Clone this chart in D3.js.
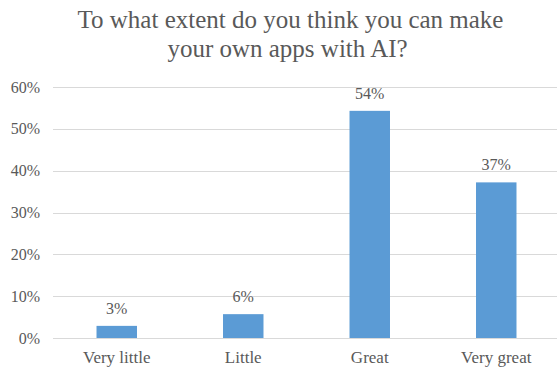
<!DOCTYPE html>
<html><head><meta charset="utf-8">
<script src="https://cdn.jsdelivr.net/npm/d3@7"></script>
<style>body{margin:0;background:#fff}svg{display:block}text{font-family:"Liberation Serif","Times New Roman",serif;fill:#595959}</style>
</head><body><svg id="c" width="557" height="372"></svg>
<script>
const titleLines = ["To what extent do you think you can make", "your own apps with AI?"];
const categories = ["Very little", "Little", "Great", "Very great"];
const values = [0.029, 0.057, 0.543, 0.372];
const yTicks = [0, 0.1, 0.2, 0.3, 0.4, 0.5, 0.6];

const svg = d3.select("#c");
const x = d3.scaleBand().domain(categories).range([53.5, 559.5]).paddingInner(0.68).paddingOuter(0.34);
const y = d3.scaleLinear().domain([0, 0.6]).range([338, 87]);
const pct = d3.format(".0%");

svg.append("g").selectAll("line").data(yTicks).join("line")
  .attr("x1", 53).attr("x2", 557).attr("y1", d => Math.round(y(d)) + 0.5).attr("y2", d => Math.round(y(d)) + 0.5)
  .attr("stroke", "#d9d9d9").attr("stroke-width", 1);

svg.append("g").selectAll("text").data(yTicks).join("text")
  .attr("x", 40).attr("y", d => y(d)).attr("dy", "0.35em").attr("text-anchor", "end")
  .attr("font-size", 16).text(d => pct(d));

svg.append("g").selectAll("rect").data(values).join("rect")
  .attr("x", (d, i) => x(categories[i])).attr("width", x.bandwidth())
  .attr("y", d => y(d)).attr("height", d => y(0) - y(d)).attr("fill", "#5b9bd5");

svg.append("g").selectAll("text").data(values).join("text")
  .attr("x", (d, i) => x(categories[i]) + x.bandwidth() / 2).attr("y", d => y(d) - 12)
  .attr("text-anchor", "middle").attr("font-size", 16).text(d => pct(d));

svg.append("g").selectAll("text").data(categories).join("text")
  .attr("x", d => x(d) + x.bandwidth() / 2).attr("y", 363)
  .attr("text-anchor", "middle").attr("font-size", 17).text(d => d);

svg.append("g").selectAll("text").data(titleLines).join("text")
  .attr("x", (d, i) => i === 0 ? 290.5 : 287.5).attr("y", (d, i) => 28 + i * 29)
  .attr("text-anchor", "middle").attr("font-size", 25).text(d => d);
</script></body></html>
